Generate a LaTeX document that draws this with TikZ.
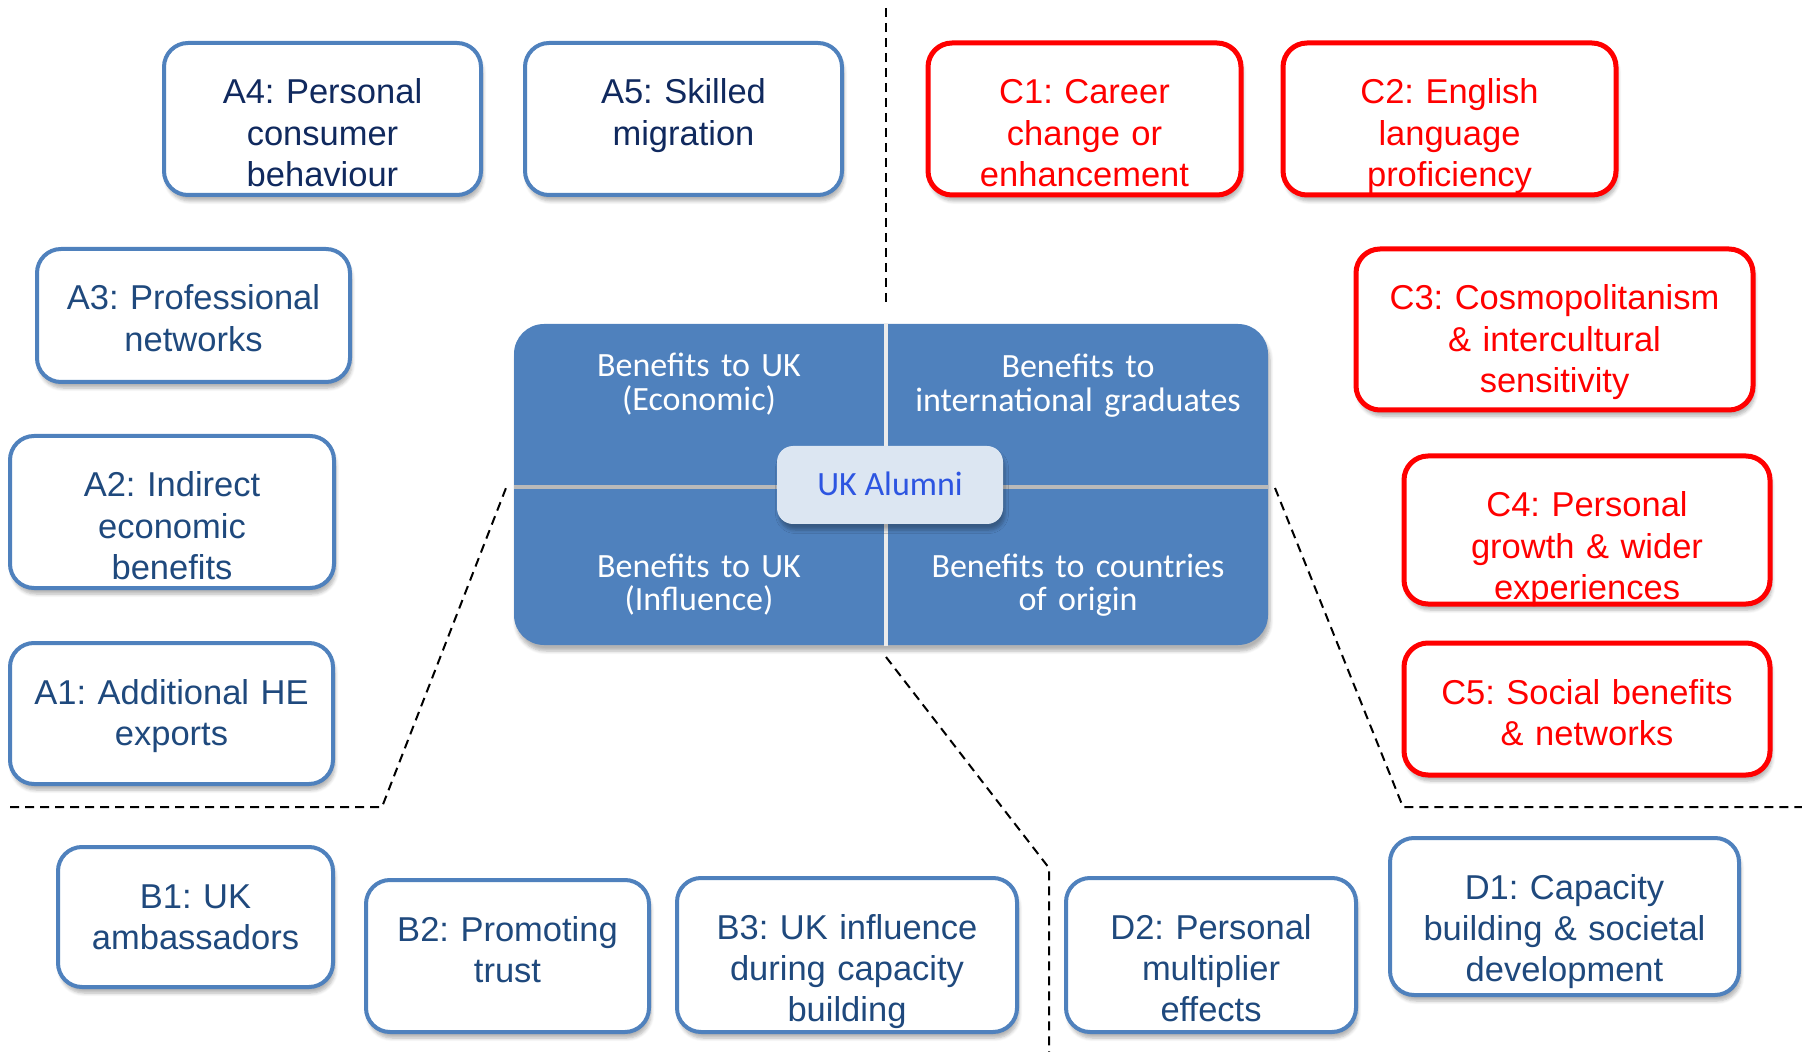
\documentclass[tikz,border=0pt]{standalone}
\usepackage{fontspec}
\newfontfamily\arialf{Liberation Sans}
\newfontfamily\calf{Carlito}
\usetikzlibrary{shadows.blur}
\frenchspacing
\definecolor{bxblue}{HTML}{4F81BD}
\definecolor{txnavy}{HTML}{10295E}
\definecolor{txblue}{HTML}{1F497D}
\definecolor{bxred}{HTML}{FF0000}
\definecolor{pnblue}{HTML}{4F81BD}
\definecolor{alfill}{HTML}{DCE6F2}
\definecolor{altext}{RGB}{45,85,225}
\newcommand\mybox[8]{%
  \node[#2, minimum width={(#6-#4)*0.5pt}, minimum height={(#7-#5)*0.5pt}] (#1) at ({(#4+#6)/2},{(#5+#7)/2}) {};
  \node[lbl, text=#3, text width={(#6-#4)*0.5pt}] (#1t) at ({(#4+#6)/2},{#5+61}) {#8};
}
\begin{document}
\begin{tikzpicture}[x=0.5pt,y=-0.5pt,
  shd/.style={blur shadow={shadow xshift=1pt, shadow yshift=-3pt, shadow blur steps=6, shadow opacity=30}},
  boxb/.style={draw=bxblue, line width=2pt, rounded corners=12pt, fill=white, shd, inner sep=0pt},
  boxr/.style={draw=bxred, line width=2.5pt, rounded corners=12pt, fill=white, shd, inner sep=0pt},
  lbl/.style={font=\arialf\frenchspacing\fontsize{17.25}{20.7}\selectfont, align=center, anchor=base, inner sep=0pt},
  qtext/.style={font=\calf\frenchspacing\fontsize{17}{16.75}\selectfont, align=center, anchor=base, inner sep=0pt, text=white, text width=185pt},
  dsh/.style={line width=1pt, dash pattern=on 4.5pt off 3pt},
]
\useasboundingbox (0,0) rectangle (1802,1052);

% separators
\coordinate (t1) at (886,8);
\coordinate (t2) at (886,305);
\draw[dsh] (t1) -- (t2);
\coordinate (l1) at (10,807);
\coordinate (l2) at (382,807);
\coordinate (l3) at (506,488);
\draw[dsh] (l1) -- (l2) -- (l3);
\coordinate (m1) at (886,657);
\coordinate (m2) at (1049,868);
\coordinate (m3) at (1049,1052);
\draw[dsh] (m1) -- (m2) -- (m3);
\coordinate (r1) at (1275,488);
\coordinate (r2) at (1403,807);
\coordinate (r3) at (1802,807);
\draw[dsh] (r1) -- (r2) -- (r3);

% central panel
\node[fill=pnblue, rounded corners=15pt, minimum width=377pt, minimum height=160.5pt, shd, inner sep=0pt] (panel) at (891,484.5) {};
\draw[line width=2pt, draw=gray!15] (886,323) -- (886,646);
\draw[line width=2pt, draw=gray!55] (514,487) -- (1268,487);
\node[qtext] (q1) at (699,377) {Benefits to UK\\(Economic)};
\node[qtext] (q2) at (1078,378) {Benefits to\\international graduates};
\node[qtext] (q3) at (699,577) {Benefits to UK\\(Influence)};
\node[qtext] (q4) at (1078,577) {Benefits to countries\\of origin};
\node[fill=alfill, rounded corners=8pt, minimum width=113pt, minimum height=39pt, shd, inner sep=0pt] (alum) at (890,485) {};
\node[font=\calf\fontsize{17}{20}\selectfont, text=altext, anchor=base, inner sep=0pt] (alumt) at (890,496) {UK Alumni};

% A boxes
\mybox{a4}{boxb}{txnavy}{164}{43}{481}{195}{A4: Personal\\consumer\\behaviour}
\mybox{a5}{boxb}{txnavy}{525}{43}{842}{195}{A5: Skilled\\migration}
\mybox{a3}{boxb}{txblue}{37}{249}{350}{382}{A3: Professional\\networks}
\mybox{a2}{boxb}{txblue}{10}{436}{334}{588}{A2: Indirect\\economic\\benefits}
\mybox{a1}{boxb}{txblue}{10}{643}{333}{784}{A1: Additional HE\\exports}
% B boxes
\mybox{b1}{boxb}{txblue}{58}{847}{333}{987}{B1: UK\\ambassadors}
\mybox{b2}{boxb}{txblue}{366}{880}{649}{1032}{B2: Promoting\\trust}
\mybox{b3}{boxb}{txblue}{677}{878}{1017}{1032}{B3: UK influence\\during capacity\\building}
% D boxes
\mybox{d2}{boxb}{txblue}{1066}{878}{1356}{1032}{D2: Personal\\multiplier\\effects}
\mybox{d1}{boxb}{txblue}{1390}{838}{1739}{995}{D1: Capacity\\building \& societal\\development}
% C boxes
\mybox{c1}{boxr}{bxred}{928}{43}{1241}{195}{C1: Career\\change or\\enhancement}
\mybox{c2}{boxr}{bxred}{1283}{43}{1616}{195}{C2: English\\language\\proficiency}
\mybox{c3}{boxr}{bxred}{1356}{249}{1753}{410}{C3: Cosmopolitanism\\\& intercultural\\sensitivity}
\mybox{c4}{boxr}{bxred}{1404}{456}{1770}{604}{C4: Personal\\growth \& wider\\experiences}
\mybox{c5}{boxr}{bxred}{1404}{643}{1770}{775}{C5: Social benefits\\\& networks}
\end{tikzpicture}
\end{document}
